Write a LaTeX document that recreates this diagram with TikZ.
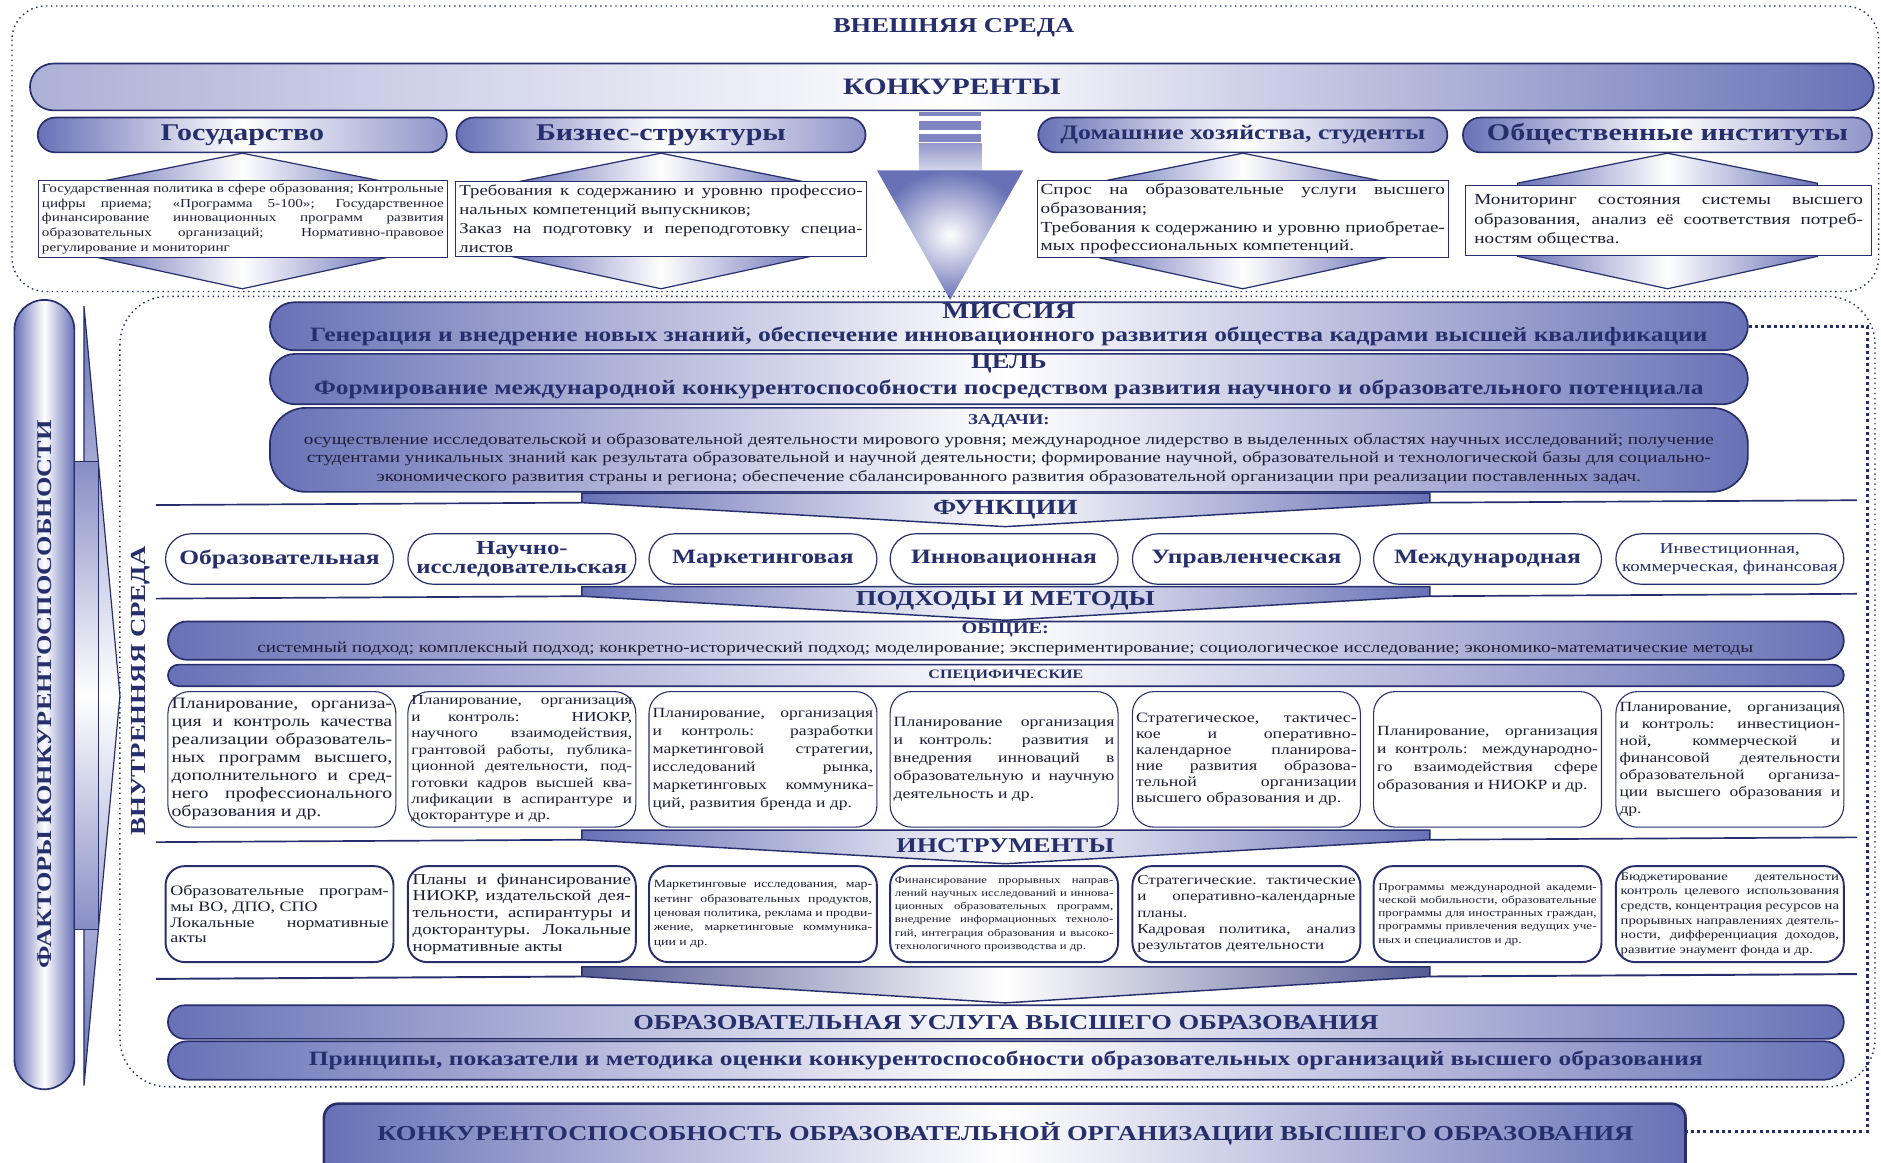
\documentclass[tikz,border=0pt]{standalone}
\usepackage{fontspec}
\setmainfont{Liberation Serif}[FakeStretch=1.25]
\usetikzlibrary{calc}
\definecolor{navy}{RGB}{38,46,108}
\definecolor{steel}{RGB}{104,113,182}
\definecolor{inkc}{RGB}{30,30,55}
\tikzset{
  fs/.style 2 args={font=\fontsize{#1}{#2}\selectfont},
  bfs/.style 2 args={font=\bfseries\fontsize{#1}{#2}\selectfont},
  shd/.style n args={3}{left color=#1,right color=#3,middle color=#2},
  bar/.style={draw=navy,line width=1.4pt,inner sep=0pt,text=navy},
  txtbox/.style={draw=navy,line width=0.9pt,fill=white,inner sep=3pt,align=justify,text=inkc},
  fbox/.style={draw=navy,line width=1pt,fill=white,rounded corners=21pt,minimum width=190pt,minimum height=42pt,inner sep=1pt,align=center,text=navy},
  sbox/.style={draw=navy,line width=0.9pt,fill=white,rounded corners=18pt,minimum width=190pt,minimum height=113pt,text width=184pt,inner sep=3pt,align=justify,text=inkc},
  ibox/.style={draw=navy,line width=1.6pt,fill=white,rounded corners=16pt,minimum width=190pt,minimum height=80pt,text width=182pt,inner sep=4pt,align=justify,text=inkc},
  dotline/.style={navy,line width=1.2pt,dash pattern=on 1.2pt off 3pt},
}
\begin{document}
\begin{tikzpicture}[x=1pt,y=-1pt]
\useasboundingbox (0,0) rectangle (1568,969);
\clip (0,0) rectangle (1568,969);
% external environment
\draw[dotline,rounded corners=28pt] (10,5) rectangle (1566,243);
\node[bfs={17.7}{20},text=navy] (vnesh) at (795,23) {ВНЕШНЯЯ СРЕДА};
\node[bar,rounded corners=19.5pt,minimum width=1537pt,minimum height=39pt,shd={steel!55}{white}{steel},bfs={19.6}{22}] (konk) at (793.5,72.5) {КОНКУРЕНТЫ};
\foreach \n/\x/\s/\lab in {gos/202/20/Государство,biz/551/20/Бизнес-структуры,dom/1036/17.2/{Домашние хозяйства, студенты},obs/1390/20/Общественные институты}
  \node[bar,rounded corners=14.5pt,minimum width=341pt,minimum height=29pt,shd={steel}{white}{steel!75},bfs={\s}{22}] (\n) at (\x,112.5) {\lab};
\foreach \n in {gos,biz,dom,obs}
  \shadedraw[draw=navy,line width=1pt,shd={steel}{white}{steel}] (\n.south) -- ++(125,25) -- ++(0,61) -- ++(-125,27) -- ++(-125,-27) -- ++(0,-61) -- cycle;
\node[txtbox,minimum width=341pt,minimum height=61pt,text width=335pt,fs={10.1}{12.3}] (gostxt) at (202.5,182.5) {Государственная политика в сфере образования; Контрольные\linebreak цифры приема; «Программа 5-100»; Государственное\linebreak финансирование инновационных программ развития\linebreak образовательных организаций; Нормативно-правовое\linebreak регулирование и мониторинг};
\node[txtbox,minimum width=342pt,minimum height=61pt,text width=336pt,fs={12.5}{15.7}] (biztxt) at (551,182.5) {Требования к содержанию и уровню профессио-\linebreak нальных компетенций выпускников;\\Заказ на подготовку и переподготовку специа-\linebreak листов};
\node[txtbox,minimum width=343pt,minimum height=61pt,text width=337pt,fs={12.8}{15.5}] (domtxt) at (1036,182.5) {Спрос на образовательные услуги высшего\linebreak образования;\\Требования к содержанию и уровню приобретае-\linebreak мых профессиональных компетенций.};
\node[txtbox,minimum width=338pt,minimum height=58pt,text width=324pt,inner sep=7pt,fs={12.8}{16}] (obstxt) at (1391,184) {Мониторинг состояния системы высшего\linebreak образования, анализ её соответствия потреб-\linebreak ностям общества.};
% arrow from competitors
\foreach \a/\b in {93/97,101/108,112/118}
  \fill[steel!85] (766,\a) rectangle (818,\b);
\shade[top color=steel!70,bottom color=steel!30] (766,120) rectangle (818,142);
\shade[inner color=white,outer color=steel] (731,142) -- (853,142) -- (792,250) -- cycle;
% internal environment
\draw[dotline,rounded corners=40pt] (100,247) rectangle (1563,906);
\node[bar,rotate=90,rounded corners=25pt,minimum width=658pt,minimum height=50pt,shd={steel}{white}{steel},bfs={17.5}{20}] (factors) at (37,579) {ФАКТОРЫ КОНКУРЕНТОСПОСОБНОСТИ};
\shadedraw[draw=navy,line width=1pt,top color=steel,bottom color=steel,middle color=white] (70,255) -- (100,580) -- (70,905) -- cycle;
\shadedraw[draw=navy,line width=0.8pt,top color=steel!80,bottom color=steel!80,middle color=white] (62,385) rectangle (82,775);
\node[rotate=90,bfs={17.9}{20},text=navy] (vnutr) at (117,576) {ВНУТРЕННЯЯ СРЕДА};
\node[bar,rounded corners=20pt,minimum width=1232pt,minimum height=40pt,shd={steel}{white}{steel}] (mission) at (841,272) {};
\node[bfs={19}{20},text=navy] (missionhd) at (841,259) {МИССИЯ};
\node[bfs={17}{19},text=navy] (missiontx) at (841,280) {Генерация и внедрение новых знаний, обеспечение инновационного развития общества кадрами высшей квалификации};
\node[bar,rounded corners=21pt,minimum width=1232pt,minimum height=42pt,shd={steel}{white}{steel}] (goal) at (841,316) {};
\node[bfs={17.7}{19},text=navy] (goalhd) at (841,303) {ЦЕЛЬ};
\node[bfs={17}{19},text=navy] (goaltx) at (841,325) {Формирование международной конкурентоспособности посредством развития научного и образовательного потенциала};
\node[bar,rounded corners=30pt,minimum width=1232pt,minimum height=70pt,shd={steel}{white}{steel}] (tasks) at (841,375) {};
\node[bfs={12.5}{14},text=navy] (taskshd) at (841,351) {ЗАДАЧИ:};
\node[fs={12.8}{15.5},align=center,text=inkc] (taskstx) at (841,382.5) {осуществление исследовательской и образовательной деятельности мирового уровня; международное лидерство в выделенных областях научных исследований; получение\\студентами уникальных знаний как результата образовательной и научной деятельности; формирование научной, образовательной и технологической базы для социально-\\экономического развития страны и региона; обеспечение сбалансированного развития образовательной организации при реализации поставленных задач.};
% section ribbons
\foreach \y in {411,489,692}{
  \shadedraw[draw=navy,line width=1.2pt,shd={steel}{white}{steel}] (485,\y) -- (1192,\y) -- (1192,\y+8) -- (838,\y+28) -- (485,\y+8) -- cycle;
  \draw[navy,line width=1.4pt] (130,\y+10) -- (485,\y+8) (1192,\y+8) -- (1548,\y+6);
}
\node[bfs={18}{20},text=navy] (funchd) at (838,425) {ФУНКЦИИ};
\node[bfs={17.8}{20},text=navy] (methhd) at (838,501) {ПОДХОДЫ И МЕТОДЫ};
\node[bfs={17.5}{20},text=navy] (instrhd) at (838,705) {ИНСТРУМЕНТЫ};
% functions
\node[fbox,bfs={17}{18}] (f1) at (233,466) {Образовательная};
\node[fbox,bfs={16.5}{16}] (f2) at (435,466) {Научно-\\исследовательская};
\node[fbox,bfs={17}{18}] (f3) at (636,466) {Маркетинговая};
\node[fbox,bfs={17}{18}] (f4) at (837,466) {Инновационная};
\node[fbox,bfs={17}{18}] (f5) at (1039,466) {Управленческая};
\node[fbox,bfs={17}{18}] (f6) at (1240,466) {Международная};
\node[fbox,fs={12.6}{14.5}] (f7) at (1442,466) {Инвестиционная,\\коммерческая, финансовая};
% approaches and methods
\node[bar,rounded corners=16pt,minimum width=1397pt,minimum height=32pt,shd={steel}{white}{steel}] (common) at (838.5,534) {};
\node[bfs={13.5}{14},text=navy] (commonhd) at (838,525) {ОБЩИЕ:};
\node[fs={12.8}{14},text=inkc] (commontx) at (838,541) {системный подход; комплексный подход; конкретно-исторический подход; моделирование; экспериментирование; социологическое исследование; экономико-математические методы};
\node[bar,rounded corners=9pt,minimum width=1397pt,minimum height=18pt,shd={steel}{white}{steel},bfs={10.7}{11}] (specif) at (838.5,563) {СПЕЦИФИЧЕСКИЕ};
\node[sbox,fs={13.2}{15}] (s1) at (235,633) {Планирование, организа-\linebreak ция и контроль качества\linebreak реализации образователь-\linebreak ных программ высшего,\linebreak дополнительного и сред-\linebreak него профессионального\linebreak образования и др.};
\node[sbox,fs={11.5}{13.7}] (s2) at (435,633) {Планирование, организация\linebreak и контроль: НИОКР,\linebreak научного взаимодействия,\linebreak грантовой работы, публика-\linebreak ционной деятельности, под-\linebreak готовки кадров высшей ква-\linebreak лификации в аспирантуре и\linebreak докторантуре и др.};
\node[sbox,fs={11.7}{15}] (s3) at (636,633) {Планирование, организация\linebreak и контроль: разработки\linebreak маркетинговой стратегии,\linebreak исследований рынка,\linebreak маркетинговых коммуника-\linebreak ций, развития бренда и др.};
\node[sbox,fs={11.8}{15}] (s4) at (837,633) {Планирование организация\linebreak и контроль: развития и\linebreak внедрения инноваций в\linebreak образовательную и научную\linebreak деятельность и др.};
\node[sbox,fs={11.9}{13.2}] (s5) at (1039,633) {Стратегическое, тактичес-\linebreak кое и оперативно-\linebreak календарное планирова-\linebreak ние развития образова-\linebreak тельной организации\linebreak высшего образования и др.};
\node[sbox,fs={11.7}{15}] (s6) at (1240,633) {Планирование, организация\linebreak и контроль: международно-\linebreak го взаимодействия сфере\linebreak образования и НИОКР и др.};
\node[sbox,fs={11.7}{14.3}] (s7) at (1442,633) {Планирование, организация\linebreak и контроль: инвестицион-\linebreak ной, коммерческой и\linebreak финансовой деятельности\linebreak образовательной организа-\linebreak ции высшего образования и\linebreak др.};
% instruments
\node[ibox,fs={12}{13}] (i1) at (233,762) {Образовательные програм-\linebreak мы ВО, ДПО, СПО\\Локальные нормативные\linebreak акты};
\node[ibox,fs={12.6}{14}] (i2) at (435,762) {Планы и финансирование\linebreak НИОКР, издательской дея-\linebreak тельности, аспирантуры и\linebreak докторантуры. Локальные\linebreak нормативные акты};
\node[ibox,fs={9.2}{12}] (i3) at (636,762) {Маркетинговые исследования, мар-\linebreak кетинг образовательных продуктов,\linebreak ценовая политика, реклама и продви-\linebreak жение, маркетинговые коммуника-\linebreak ции и др.};
\node[ibox,fs={8.5}{11}] (i4) at (837,762) {Финансирование прорывных направ-\linebreak лений научных исследований и иннова-\linebreak ционных образовательных программ,\linebreak внедрение информационных техноло-\linebreak гий, интеграция образования и высоко-\linebreak технологичного производства и др.};
\node[ibox,fs={11.4}{13.5}] (i5) at (1039,762) {Стратегические. тактические\linebreak и оперативно-календарные\linebreak планы.\\Кадровая политика, анализ\linebreak результатов деятельности};
\node[ibox,fs={8.8}{11}] (i6) at (1240,762) {Программы международной академи-\linebreak ческой мобильности, образовательные\linebreak программы для иностранных граждан,\linebreak программы привлечения ведущих уче-\linebreak ных и специалистов и др.};
\node[ibox,fs={9.8}{12.2}] (i7) at (1442,762) {Бюджетирование деятельности\linebreak контроль целевого использования\linebreak средств, концентрация ресурсов на\linebreak прорывных направлениях деятель-\linebreak ности, дифференциация доходов,\linebreak развитие энаумент фонда и др.};
% convergence to the service
\shadedraw[draw=navy,line width=1.2pt,shd={steel!80!black}{white}{steel!80!black}] (485,806) -- (1192,806) -- (1192,814) -- (838,836) -- (485,814) -- cycle;
\draw[navy,line width=1.6pt] (130,816) -- (485,814) (1192,814) -- (1548,812);
\node[bar,rounded corners=14pt,minimum width=1397pt,minimum height=28pt,shd={steel}{white}{steel},bfs={17.7}{18}] (service) at (838.5,852) {ОБРАЗОВАТЕЛЬНАЯ УСЛУГА ВЫСШЕГО ОБРАЗОВАНИЯ};
\node[bar,rounded corners=16pt,minimum width=1397pt,minimum height=32pt,shd={steel}{white}{steel},bfs={17}{18}] (princ) at (838.5,884) {Принципы, показатели и методика оценки конкурентоспособности образовательных организаций высшего образования};
\node[bar,line width=2.2pt,rounded corners=12pt,minimum width=1135pt,minimum height=72pt,shd={steel}{white}{steel}] (final) at (837.5,956) {};
\node[bfs={17.7}{20},text=navy] (finaltx) at (838,945) {КОНКУРЕНТОСПОСОБНОСТЬ ОБРАЗОВАТЕЛЬНОЙ ОРГАНИЗАЦИИ ВЫСШЕГО ОБРАЗОВАНИЯ};
\coordinate (rtop) at (1557,272);
\coordinate (rbot) at (1557,943);
\draw[navy,line width=2.6pt,dash pattern=on 2.6pt off 2.6pt] (mission.east) -- (rtop) -- (rbot) -- (rbot -| final.east);
\end{tikzpicture}
\end{document}
